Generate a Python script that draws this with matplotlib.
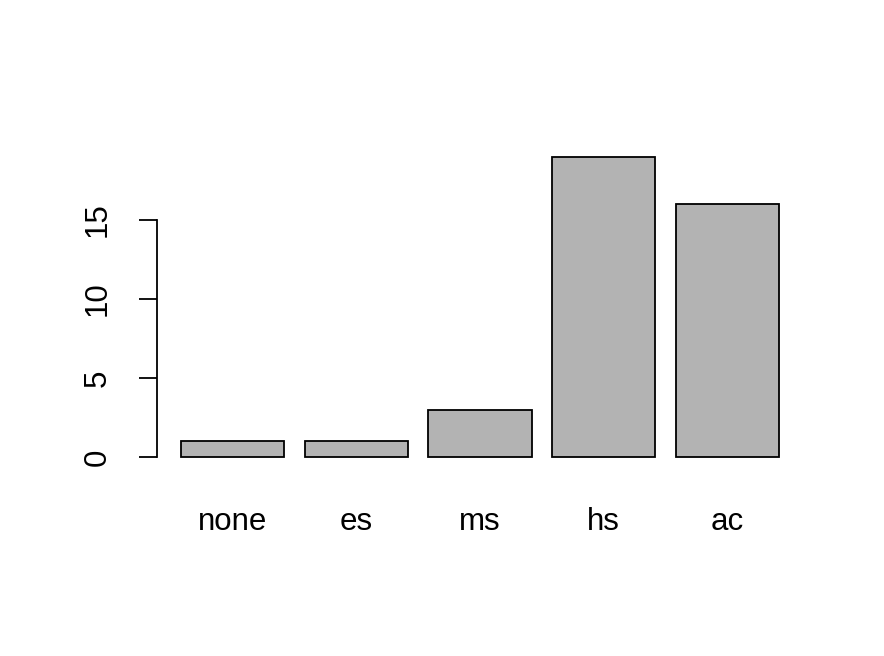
import matplotlib
matplotlib.use("Agg")
import matplotlib.pyplot as plt

categories = ["none", "es", "ms", "hs", "ac"]
counts = [1, 1, 3, 19, 16]
y_ticks = [0, 5, 10, 15]

plt.rcParams["font.family"] = ["Liberation Sans", "DejaVu Sans"]

fig = plt.figure(figsize=(8.84, 6.56), dpi=100)
ax = fig.add_axes([157 / 884, 1 - 469 / 656, (803 - 157) / 884, (469 - 144.8) / 656])

# R barplot layout: width 1, space 0.2
pos = [0.7 + 1.2 * i for i in range(len(categories))]
ax.bar(pos, counts, width=1.0, color="#B3B3B3", edgecolor="black", linewidth=1.3)

ax.set_xlim(0.2 - 0.04 * 5.8, 6.0 + 0.04 * 5.8)
ax.set_ylim(-0.04 * 19, 19 + 0.04 * 19)

for s in ["top", "right", "bottom"]:
    ax.spines[s].set_visible(False)
ax.spines["left"].set_bounds(0, 15)
ax.spines["left"].set_linewidth(1.3)

ax.set_yticks(y_ticks)
ax.set_yticklabels([str(t) for t in y_ticks], rotation=90, va="center", fontsize=22.5)
ax.tick_params(axis="y", length=13, width=1.3, pad=19)

ax.set_xticks(pos)
ax.set_xticklabels(categories, fontsize=22.5)
ax.tick_params(axis="x", length=0, pad=27)

fig.savefig("out.png", dpi=100)
